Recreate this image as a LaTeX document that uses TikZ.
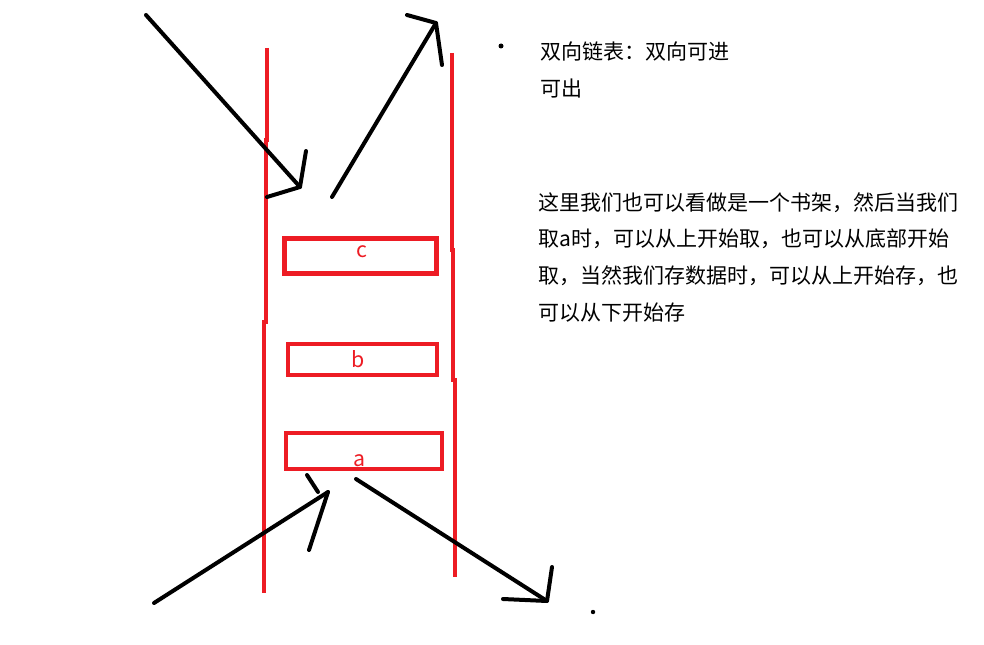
\documentclass[tikz,border=0pt]{standalone}
\usepackage{fontspec}
\newfontfamily\cjk{Noto Sans CJK SC}
\definecolor{paintred}{RGB}{237,28,36}
\tikzset{
  rail/.style={paintred, line width=3.4pt},
  shelf/.style={draw=paintred, line width=3.4pt},
  item/.style={text=paintred, font=\cjk\fontsize{16}{16}\selectfont, inner sep=0pt},
  stroke/.style={black, line width=3pt, line cap=round, line join=round},
  note/.style={font=\cjk\fontsize{15.75}{27.5}\selectfont, align=left, inner sep=0pt, anchor=north west}
}
\begin{document}
\begin{tikzpicture}[x=0.75pt, y=-0.75pt]
\useasboundingbox (0,0) rectangle (984,645);

\draw[rail] (267,48) -- (267,140) -- (266,140) -- (266,322) -- (264,322) -- (264,593);
\draw[rail] (452,53) -- (452,250) -- (453,250) -- (453,380) -- (455,380) -- (455,577);

\draw[shelf] (284.5,238.5) rectangle (436.5,273.5);
\draw[shelf] (288,344) rectangle (437,375);
\draw[shelf] (286,433) rectangle (442,469);
\node (c) [item] at (362,252) {c};
\node (b) [item] at (358,359) {b};
\node (a) [item] at (359,461) {a};

\coordinate (s1) at (146,15);
\coordinate (t1) at (300,187);
\coordinate (h1a) at (306,151);
\coordinate (h1b) at (267,197);
\coordinate (s2) at (332,197);
\coordinate (t2) at (436,23);
\coordinate (h2a) at (407,15);
\coordinate (h2b) at (442,65);
\coordinate (s3) at (154,603);
\coordinate (t3) at (328,492);
\coordinate (h3a) at (309,550);
\coordinate (h3b) at (307,475);
\coordinate (h3c) at (318,492);
\coordinate (s4) at (356,479);
\coordinate (t4) at (547,601);
\coordinate (h4a) at (552,567);
\coordinate (h4b) at (503,599);

\draw[stroke] (s1) -- (t1);
\draw[stroke] (h1a) -- (t1) -- (h1b);
\draw[stroke] (s2) -- (t2);
\draw[stroke] (h2a) -- (t2) -- (h2b);
\draw[stroke] (s3) -- (t3);
\draw[stroke] (h3a) -- (t3);
\draw[stroke] (h3b) -- (h3c);
\draw[stroke] (s4) -- (t4);
\draw[stroke] (h4a) -- (t4) -- (h4b);

\fill (501,46) circle (2.5);
\fill (593,612) circle (2.2);

\node (title) [note] at (540,42) {双向链表：双向可进\\可出};
\node (shelfnote) [note] at (538,192) {这里我们也可以看做是一个书架，然后当我们\\取a时，可以从上开始取，也可以从底部开始\\取，当然我们存数据时，可以从上开始存，也\\可以从下开始存};
\end{tikzpicture}
\end{document}
